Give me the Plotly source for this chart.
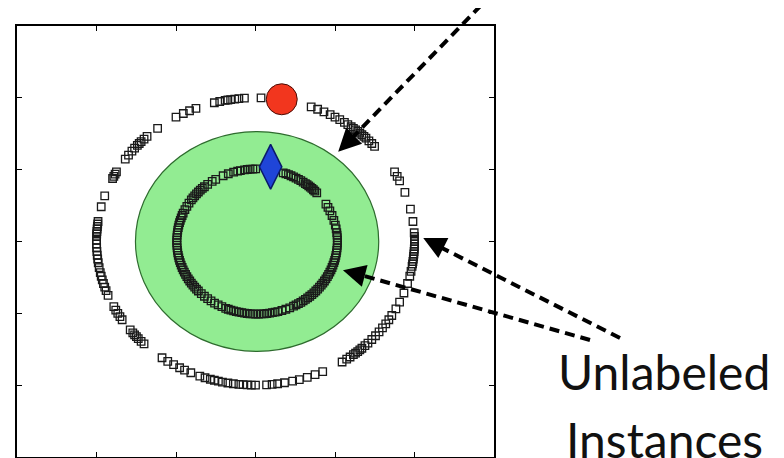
import numpy as np
import plotly.graph_objects as go

# ---------------- data ----------------
# Outer ring of unlabeled instances: angle (degrees) of each square, radius in data units
outer_theta_deg = [88, 94, 96, 97.5, 99, 100, 101, 103, 105,
                   112, 114.5, 117, 120, 128,
                   133, 134.5, 136, 137, 138, 139.5, 141, 143, 145,
                   151, 152, 153, 154, 161.5, 166,
                   172, 173, 174, 175, 176, 177, 178, 179.5, 181, 182.5, 184, 185.5, 187, 188.5,
                   190.5, 192.5, 194, 195.5, 197, 198.5, 200, 202,
                   207, 208.5, 210, 211.5, 213, 218, 219.5, 220.5, 221.5, 222.5, 224, 225.5,
                   234, 236.5, 239, 241.5, 243.5, 246, 249.5, 251.5, 253.5, 255, 256.5, 258, 260, 262,
                   264, 265.5, 267, 268.5, 270,
                   274, 276, 278, 280.5, 283.5, 286, 289, 292, 295,
                   303, 305, 306.5, 308, 309, 310, 311, 312, 313.5, 315, 317, 319, 321,
                   323, 325, 327, 329, 332, 335, 339, 343, 346, 348, 350,
                   351, 352, 353, 354, 355, 356, 357, 358, 359, 360, 361, 362, 363.5,
                   368, 373, 380, 385, 387, 389,
                   41.5, 43, 44.5, 46, 47, 48, 49, 50, 51, 52, 53, 54.5, 56, 58, 60, 62, 64.5, 67, 69.5]
outer_radius = 2.0
outer_center = (0.0, 0.0)

# Inner ring of unlabeled instances
inner_theta_deg = [42, 44, 45.5, 47, 48.5, 50, 51.5, 53, 55, 57, 59, 61, 63, 65, 67, 69, 71,
                   91, 93, 95, 97, 99, 102, 104, 107, 111, 115, 121, 124, 128, 131, 133, 135, 137,
                   139, 141, 143, 145, 148, 151, 154, 157, 159, 161, 163, 165, 167, 169, 171, 173,
                   175, 177, 179, 181, 183, 185, 187, 189, 191, 193, 195, 197, 199, 201, 203, 205,
                   207, 209, 211, 213, 215, 217, 219, 221, 223, 226, 229, 232, 235, 238, 241, 244,
                   247, 249, 251, 253, 255, 257, 259, 261, 263, 265, 267, 269, 271, 273, 275, 277,
                   279, 281, 283, 285, 288, 291, 294, 297, 299, 301, 303, 305, 307, 309, 311, 313,
                   315, 317, 319, 321, 323, 325, 327, 329, 331, 333, 335, 337, 339, 341, 343, 345,
                   347, 349, 351, 353, 355, 357, 359, 361, 363, 365, 367, 370, 373, 377, 381, 385,
                   388, 391]
inner_radius = 1.01
inner_center = (0.02, 0.0)

# Labeled instances
positive_x = [0.33]   # red circle
positive_y = [1.98]
negative_x = [0.19]   # blue diamond
negative_y = [1.04]

# Green region (decision region)
region_center = (0.02, 0.0)
region_radius = 1.53

# Annotation arrow tips (data coords)
arrow_tip_x = [1.04, 2.11, 1.10]
arrow_tip_y = [1.25, 0.05, -0.40]

axis_range = [-3, 3]
tick_vals = [-2, -1, 0, 1, 2]

# ---------------- build figure ----------------
ot = np.deg2rad(outer_theta_deg)
it = np.deg2rad(inner_theta_deg)
outer_x = outer_center[0] + outer_radius * np.cos(ot)
outer_y = outer_center[1] + outer_radius * np.sin(ot)
inner_x = inner_center[0] + inner_radius * np.cos(it)
inner_y = inner_center[1] + inner_radius * np.sin(it)

# the page body adds an 8px margin, so the figure is 8px smaller each way
W, H = 776, 450
L, R, T, B = 9, 290, 18, 1
pw, ph = W - L - R, H - T - B


def px2paper(px, py):
    # px, py: position in the 784x458 window
    return (px - 8 - L) / pw, (H - B - (py - 8)) / ph


fig = go.Figure()

fig.add_shape(type="circle", xref="x", yref="y", layer="below",
              x0=region_center[0] - region_radius, x1=region_center[0] + region_radius,
              y0=region_center[1] - region_radius, y1=region_center[1] + region_radius,
              fillcolor="#92EC92", line=dict(color="#2E6B2E", width=1.2))

sq = dict(symbol="square-open", size=7.5, color="#1a1a1a", line=dict(width=1.3))
fig.add_trace(go.Scatter(x=outer_x, y=outer_y, mode="markers", marker=sq,
                         hoverinfo="skip", showlegend=False))
fig.add_trace(go.Scatter(x=inner_x, y=inner_y, mode="markers", marker=sq,
                         hoverinfo="skip", showlegend=False))
fig.add_trace(go.Scatter(x=positive_x, y=positive_y, mode="markers",
                         marker=dict(symbol="circle", size=31, color="#F2361E",
                                     line=dict(color="#4a0c05", width=1)),
                         showlegend=False))
fig.add_trace(go.Scatter(x=negative_x, y=negative_y, mode="markers",
                         marker=dict(symbol="diamond-tall", size=32, color="#1F45D8",
                                     line=dict(color="#0a1a6a", width=1.5)),
                         showlegend=False))

# dashed leader lines (window pixel positions converted to paper)
dash_lines = [((492, -6), (350, 140)), ((620, 338), (440, 247)), ((590, 340), (361, 275))]
for (p0, p1) in dash_lines:
    x0, y0 = px2paper(*p0)
    x1, y1 = px2paper(*p1)
    fig.add_shape(type="line", xref="paper", yref="paper", x0=x0, y0=y0, x1=x1, y1=y1,
                  line=dict(color="black", width=4, dash="10px,6px"))

tails = [(12, -12), (18, 9), (19, 5)]
for tx, ty, (ax, ay) in zip(arrow_tip_x, arrow_tip_y, tails):
    fig.add_annotation(x=tx, y=ty, xref="x", yref="y", ax=ax, ay=ay, text="",
                       showarrow=True, arrowhead=2, arrowsize=1.5, arrowwidth=3,
                       arrowcolor="black", standoff=0)

fx, fy = px2paper(664, 371)
fig.add_annotation(x=fx, y=fy, xref="paper", yref="paper", text="Unlabeled",
                   showarrow=False, xanchor="center", yanchor="middle",
                   font=dict(family="Lato", size=48, color="#111111"))
fx, fy = px2paper(664, 439)
fig.add_annotation(x=fx, y=fy, xref="paper", yref="paper", text="Instances",
                   showarrow=False, xanchor="center", yanchor="middle",
                   font=dict(family="Lato", size=48, color="#111111"))

ax_common = dict(range=axis_range, tickvals=tick_vals, ticks="inside", ticklen=5,
                 tickwidth=1, tickcolor="black", showticklabels=False, showgrid=False,
                 zeroline=False, showline=True, linecolor="black", linewidth=1.5,
                 mirror="ticks", fixedrange=True)
fig.update_xaxes(**ax_common)
fig.update_yaxes(**ax_common)
fig.update_layout(width=W, height=H, margin=dict(l=L, r=R, t=T, b=B, autoexpand=False),
                  plot_bgcolor="white", paper_bgcolor="white")

fig.write_html("out.html")
